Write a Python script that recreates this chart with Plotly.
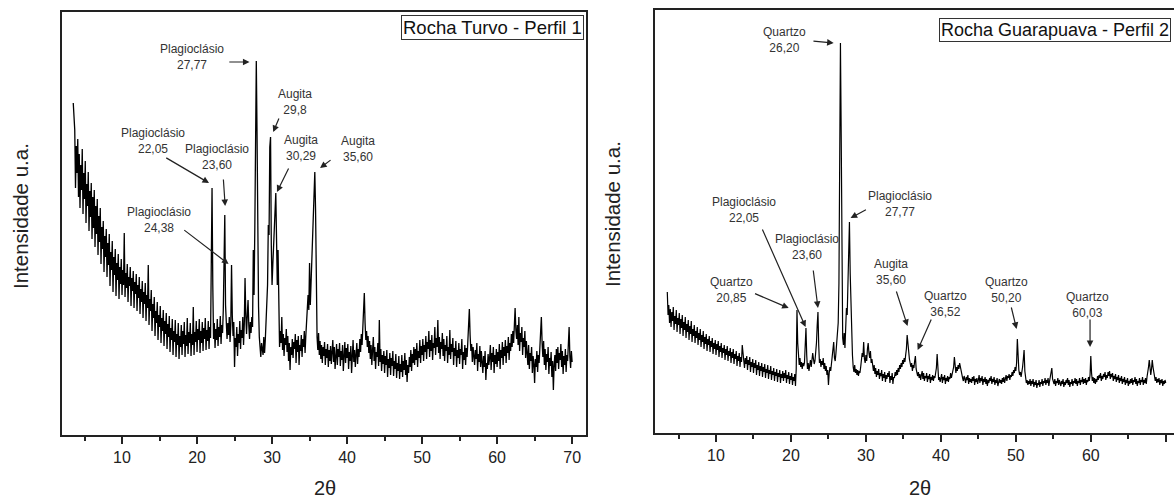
import plotly.graph_objects as go

# ---------------- data ----------------
TWO_THETA_START = 3.5
TWO_THETA_STEP = 0.1

# Rocha Turvo - Perfil 1 (intensity, a.u.) 3.5 .. 70.0 step 0.1
LEFT_I = [
    332, 318, 305, 247, 289,
    262, 296, 238, 281, 227, 270, 245, 286, 221, 262,
    236, 274, 212, 251, 229, 263, 204, 244, 218, 252,
    196, 238, 207, 245, 188, 229, 201, 236, 180, 219,
    193, 227, 171, 208, 186, 214, 163, 199, 178, 206,
    158, 192, 170, 201, 149, 183, 165, 194, 143, 178,
    160, 186, 139, 172, 155, 181, 136, 168, 151, 176,
    140, 165, 150, 202, 138, 162, 147, 171, 133, 158,
    149, 168, 129, 157, 144, 164, 127, 153, 141, 161,
    124, 150, 137, 158, 121, 146, 133, 154, 117, 143,
    131, 152, 114, 140, 127, 170, 110, 136, 124, 145,
    104, 131, 117, 138, 99, 124, 112, 133, 95, 120,
    108, 129, 92, 117, 104, 125, 89, 114, 101, 122,
    86, 111, 98, 119, 83, 107, 95, 116, 80, 104,
    93, 115, 78, 101, 90, 112, 76, 99, 88, 110,
    80, 104, 91, 113, 78, 100, 89, 117, 81, 103,
    92, 112, 79, 101, 90, 128, 80, 103, 93, 114,
    83, 106, 95, 116, 82, 104, 92, 113, 84, 107,
    96, 117, 85, 105, 94, 114, 86, 108, 97, 160,
    247, 150, 96, 112, 87, 106, 95, 116, 89, 108,
    98, 119, 91, 110, 102, 125, 180, 220, 130, 115,
    96, 112, 100, 118, 93, 110, 170, 120, 99, 113,
    68, 97, 88, 108, 79, 101, 92, 114, 86, 105,
    97, 118, 90, 111, 157, 120, 101, 120, 135, 110,
    96, 113, 102, 118, 108, 185, 140, 205, 318, 374,
    300, 190, 128, 98, 86, 78, 92, 88, 80, 98,
    82, 95, 110, 125, 150, 210, 200, 288, 298, 190,
    150, 170, 190, 215, 230, 242, 195, 150, 185, 120,
    88, 104, 92, 118, 85, 101, 79, 97, 90, 106,
    83, 99, 74, 92, 65, 88, 80, 96, 77, 93,
    86, 101, 72, 95, 83, 99, 70, 90, 84, 100,
    78, 96, 88, 104, 82, 99, 110, 125, 140, 125,
    172, 130, 150, 175, 208, 218, 240, 263, 225, 130,
    98, 85, 102, 80, 94, 76, 90, 72, 88, 79,
    93, 70, 86, 77, 91, 68, 85, 74, 89, 71,
    84, 95, 73, 88, 66, 82, 91, 70, 86, 78,
    92, 69, 84, 75, 90, 64, 81, 93, 72, 87,
    77, 91, 66, 83, 74, 89, 62, 80, 95, 73,
    85, 68, 82, 92, 71, 86, 78, 96, 83, 101,
    90, 108, 118, 142, 112, 95, 104, 88, 99, 82,
    94, 76, 90, 70, 85, 98, 74, 88, 66, 83,
    78, 92, 69, 115, 73, 86, 64, 80, 71, 84,
    62, 79, 70, 85, 58, 76, 67, 82, 60, 77,
    69, 84, 59, 74, 66, 81, 57, 72, 64, 79,
    56, 71, 63, 80, 58, 74, 65, 82, 60, 75,
    53, 70, 62, 78, 68, 85, 64, 81, 72, 88,
    70, 86, 75, 92, 68, 84, 77, 95, 72, 89,
    80, 96, 74, 90, 83, 99, 76, 93, 86, 104,
    78, 95, 84, 100, 75, 92, 87, 108, 80, 97,
    88, 115, 82, 98, 76, 93, 86, 102, 79, 96,
    74, 90, 84, 99, 72, 88, 80, 105, 76, 91,
    83, 97, 70, 87, 79, 94, 68, 85, 77, 92,
    71, 86, 80, 96, 66, 83, 75, 90, 70, 87,
    78, 95, 110, 126, 100, 84, 91, 73, 88, 79,
    70, 85, 76, 92, 64, 81, 73, 89, 68, 84,
    75, 62, 79, 68, 84, 55, 72, 66, 81, 70,
    77, 90, 65, 82, 73, 88, 62, 80, 71, 86,
    68, 83, 74, 91, 66, 85, 77, 93, 70, 88,
    79, 95, 72, 89, 82, 98, 75, 92, 84, 101,
    88, 104, 92, 112, 127, 105, 96, 110, 90, 118,
    84, 102, 93, 108, 80, 97, 88, 104, 77, 94,
    85, 70, 90, 66, 82, 74, 88, 62, 79, 71,
    52, 76, 68, 84, 63, 80, 72, 89, 96, 118,
    92, 78, 94, 70, 86, 65, 81, 73, 88, 61,
    77, 69, 83, 58, 74, 45, 70, 80, 64, 86,
    72, 88, 66, 82, 75, 91, 68, 84, 61, 79,
    70, 86, 63, 80, 74, 92, 108, 78, 67, 84,
    73,
]

# Rocha Guarapuava - Perfil 2 (intensity, a.u.) 3.5 .. 70.0 step 0.1
RIGHT_I = [
    141, 118, 128, 110, 124,
    106, 121, 112, 126, 103, 117, 109, 123, 101, 115,
    108, 120, 99, 114, 105, 118, 97, 111, 103, 116,
    95, 109, 101, 113, 93, 107, 99, 112, 91, 104,
    97, 108, 90, 102, 95, 106, 88, 100, 93, 104,
    86, 98, 91, 102, 84, 96, 89, 99, 82, 94,
    88, 97, 81, 92, 86, 95, 79, 90, 84, 93,
    78, 89, 83, 92, 76, 87, 81, 90, 75, 85,
    80, 88, 73, 84, 78, 87, 72, 82, 77, 85,
    70, 81, 75, 84, 69, 79, 74, 82, 67, 77,
    72, 80, 66, 76, 71, 88, 82, 74, 65, 75,
    69, 77, 63, 73, 68, 76, 61, 71, 66, 74,
    60, 70, 65, 73, 58, 68, 63, 71, 57, 67,
    62, 70, 56, 66, 61, 69, 55, 64, 60, 68,
    54, 63, 59, 67, 53, 62, 58, 65, 52, 61,
    57, 64, 51, 60, 56, 63, 50, 59, 55, 62,
    52, 60, 55, 63, 50, 58, 54, 61, 49, 57,
    53, 60, 48, 56, 52, 59, 47, 64, 123, 90,
    72, 68, 75, 66, 71, 64, 70, 67, 70, 88,
    105, 78, 64, 70, 62, 68, 73, 66, 71, 80,
    74, 69, 72, 78, 90, 108, 121, 88, 70, 74,
    66, 72, 68, 75, 64, 70, 62, 67, 58, 63,
    48, 60, 66, 62, 70, 78, 84, 91, 75, 72,
    80, 92, 100, 110, 150, 326, 390, 300, 140, 95,
    88, 100, 85, 110, 125, 118, 150, 185, 211, 160,
    120, 95, 78, 66, 61, 68, 60, 64, 58, 63,
    57, 62, 60, 66, 72, 80, 76, 91, 74, 70,
    78, 72, 84, 90, 80, 75, 82, 70, 74, 66,
    62, 68, 59, 65, 56, 62, 58, 64, 54, 60,
    57, 63, 52, 59, 55, 61, 51, 58, 54, 60,
    56, 62, 50, 57, 53, 60, 49, 56, 55, 61,
    57, 63, 58, 65, 61, 68, 64, 70, 66, 73,
    69, 75, 71, 78, 84, 98, 88, 80, 74, 70,
    66, 70, 62, 68, 65, 72, 77, 64, 60, 57,
    61, 55, 59, 53, 58, 62, 54, 60, 52, 57,
    55, 60, 51, 57, 54, 59, 50, 56, 53, 58,
    52, 57, 55, 60, 65, 79, 58, 53, 56, 51,
    55, 59, 50, 56, 53, 58, 49, 55, 52, 57,
    51, 56, 54, 60, 55, 58, 62, 66, 76, 63,
    60, 66, 62, 68, 64, 70, 65, 61, 58, 55,
    52, 57, 54, 50, 56, 53, 58, 49, 55, 51,
    54, 50, 56, 52, 57, 48, 54, 51, 55, 49,
    53, 58, 50, 55, 52, 57, 48, 54, 51, 56,
    49, 54, 47, 53, 50, 55, 52, 57, 49, 54,
    51, 56, 48, 53, 50, 55, 47, 52, 54, 50,
    53, 49, 55, 51, 56, 50, 54, 58, 52, 57,
    55, 59, 53, 58, 56, 61, 57, 63, 60, 66,
    62, 70, 94, 72, 63, 58, 61, 56, 60, 66,
    74, 83, 62, 55, 50, 53, 48, 52, 49, 54,
    47, 52, 49, 54, 46, 51, 48, 53, 45, 50,
    48, 53, 46, 51, 49, 54, 47, 52, 50, 55,
    48, 53, 50, 55, 47, 52, 56, 58, 65, 54,
    52, 49, 54, 47, 52, 50, 55, 48, 53, 51,
    47, 52, 49, 54, 46, 51, 48, 53, 50, 55,
    48, 53, 46, 51, 49, 54, 47, 52, 50, 55,
    49, 54, 47, 52, 50, 55, 48, 53, 51, 56,
    49, 54, 50, 55, 48, 53, 51, 56, 52, 58,
    77, 60, 52, 56, 50, 55, 49, 54, 51, 57,
    53, 58, 55, 60, 52, 57, 54, 59, 56, 61,
    53, 58, 55, 61, 57, 62, 54, 59, 56, 60,
    52, 57, 54, 59, 51, 56, 53, 58, 50, 55,
    52, 57, 49, 54, 51, 56, 48, 53, 50, 55,
    47, 52, 49, 54, 50, 55, 48, 53, 51, 56,
    49, 54, 47, 52, 50, 55, 48, 53, 51, 56,
    48, 53, 50, 55, 49, 56, 60, 66, 73, 62,
    58, 64, 73, 66, 60, 55, 52, 56, 50, 54,
    51, 55, 48, 53, 50, 54, 47, 52, 49, 53,
    50,
]

X_TICKS = [10, 20, 30, 40, 50, 60, 70]
X_MINOR_TICKS = [5, 15, 25, 35, 45, 55, 65]

# peak labels: (text, text_x, text_y, arrow_tail_x, arrow_tail_y, arrow_tip_x, arrow_tip_y)
LEFT_LABELS = [
    ("Plagioclásio<br>27,77", 19.3, 378, 24.1, 373, 27.0, 373),
    ("Augita<br>29,8", 33.0, 333, 31.0, 318, 30.15, 303),
    ("Plagioclásio<br>22,05", 14.1, 294, 15.7, 278, 21.6, 252),
    ("Plagioclásio<br>23,60", 22.7, 278, 23.5, 257, 23.75, 229),
    ("Augita<br>30,29", 33.8, 287, 32.3, 268, 30.65, 243),
    ("Augita<br>35,60", 41.5, 286, 38.0, 276, 36.4, 267),
    ("Plagioclásio<br>24,38", 14.9, 215, 18.1, 206, 24.2, 171),
]
RIGHT_LABELS = [
    ("Quartzo<br>26,20", 19.1, 393, 22.8, 392, 25.7, 390),
    ("Plagioclásio<br>27,77", 34.6, 229, 30.2, 224, 27.95, 215),
    ("Plagioclásio<br>22,05", 13.7, 223, 16.1, 205, 21.95, 106),
    ("Plagioclásio<br>23,60", 22.1, 186, 22.95, 164, 23.6, 125),
    ("Quartzo<br>20,85", 12.0, 143, 15.0, 140, 19.7, 125),
    ("Augita<br>35,60", 33.4, 161, 34.0, 143, 35.55, 107),
    ("Quartzo<br>36,52", 40.6, 129, 38.8, 115, 36.9, 83),
    ("Quartzo<br>50,20", 48.8, 143, 49.35, 127, 50.1, 104),
    ("Quartzo<br>60,03", 59.55, 128, 59.9, 115, 59.9, 86),
]

# ---------------- figure ----------------
FONT = "Liberation Sans, Arial, sans-serif"
AX = "#222222"


def xs(n):
    return [round(TWO_THETA_START + i * TWO_THETA_STEP, 2) for i in range(n)]


fig = go.Figure()
fig.add_trace(go.Scatter(x=xs(len(LEFT_I)), y=LEFT_I, mode="lines",
                         line=dict(color="black", width=1.3), xaxis="x", yaxis="y",
                         showlegend=False, hoverinfo="skip"))
fig.add_trace(go.Scatter(x=xs(len(RIGHT_I)), y=RIGHT_I, mode="lines",
                         line=dict(color="black", width=1.2), xaxis="x2", yaxis="y2",
                         showlegend=False, hoverinfo="skip"))

W, H = 1174, 502


def xaxis_common(dom, rng, anchor):
    return dict(domain=dom, range=rng, tickvals=X_TICKS, ticks="outside", ticklen=7,
                tickwidth=1.5, tickcolor=AX, showline=True, linecolor=AX, linewidth=2,
                mirror=True, showgrid=False, zeroline=False, anchor=anchor,
                tickfont=dict(family=FONT, size=16, color="#222"),
                minor=dict(tickvals=X_MINOR_TICKS, ticks="outside",
                           ticklen=4, tickwidth=1.5, tickcolor=AX))


def yaxis_common(dom, rng, mirror, anchor):
    return dict(domain=dom, range=rng, showticklabels=False, ticks="", showline=True,
                linecolor=AX, linewidth=2, mirror=mirror, showgrid=False,
                zeroline=False, anchor=anchor)


fig.update_layout(
    width=W, height=H, margin=dict(l=0, r=0, t=0, b=0),
    paper_bgcolor="white", plot_bgcolor="white",
    xaxis=xaxis_common([62 / W, 586 / W], [2.0, 71.85], "y"),
    yaxis=yaxis_common([(H - 435) / H, (H - 12) / H], [0, 423], True, "x"),
    xaxis2=xaxis_common([655 / W, 1.0], [1.86, 71.1], "y2"),
    yaxis2=yaxis_common([(H - 433) / H, (H - 10) / H], [0, 423], False, "x2"),
)

ann = []
for labels, xr, yr in ((LEFT_LABELS, "x", "y"), (RIGHT_LABELS, "x2", "y2")):
    for txt, tx, ty, ax_, ay_, px, py in labels:
        ann.append(dict(text=txt, x=tx, y=ty, xref=xr, yref=yr, showarrow=False,
                        xanchor="center", yanchor="middle",
                        font=dict(family=FONT, size=12, color="#333")))
        ann.append(dict(text="", x=px, y=py, xref=xr, yref=yr, ax=ax_, ay=ay_,
                        axref=xr, ayref=yr, showarrow=True, arrowhead=2, arrowsize=1.1,
                        arrowwidth=1.2, arrowcolor="#222", standoff=0, startstandoff=0))

# panel titles (boxed)
ann.append(dict(text="Rocha Turvo - Perfil 1", xref="paper", yref="paper",
                x=584 / W, y=(H - 15) / H, xanchor="right", yanchor="top",
                showarrow=False, bordercolor="#333", borderwidth=1, borderpad=1,
                bgcolor="white", font=dict(family=FONT, size=18.5, color="#111")))
ann.append(dict(text="Rocha Guarapuava - Perfil 2", xref="paper", yref="paper",
                x=1171 / W, y=(H - 18) / H, xanchor="right", yanchor="top",
                showarrow=False, bordercolor="#333", borderwidth=1, borderpad=1,
                bgcolor="white", font=dict(family=FONT, size=18, color="#111")))

# axis titles
for tx in (325, 920):
    ann.append(dict(text="2θ", xref="paper", yref="paper", x=tx / W, y=1 / H,
                    xanchor="center", yanchor="bottom", showarrow=False,
                    font=dict(family=FONT, size=20, color="#222")))
for tx, ty in ((21, 216), (613, 214)):
    ann.append(dict(text="Intensidade u.a.", xref="paper", yref="paper", x=tx / W,
                    y=(H - ty) / H, textangle=-90, xanchor="center", yanchor="middle",
                    showarrow=False, font=dict(family=FONT, size=20.5, color="#222")))

fig.update_layout(annotations=ann)
fig.write_html("out.html", config={"displayModeBar": False},
               post_script="document.body.style.margin='0';document.body.style.padding='0';")
